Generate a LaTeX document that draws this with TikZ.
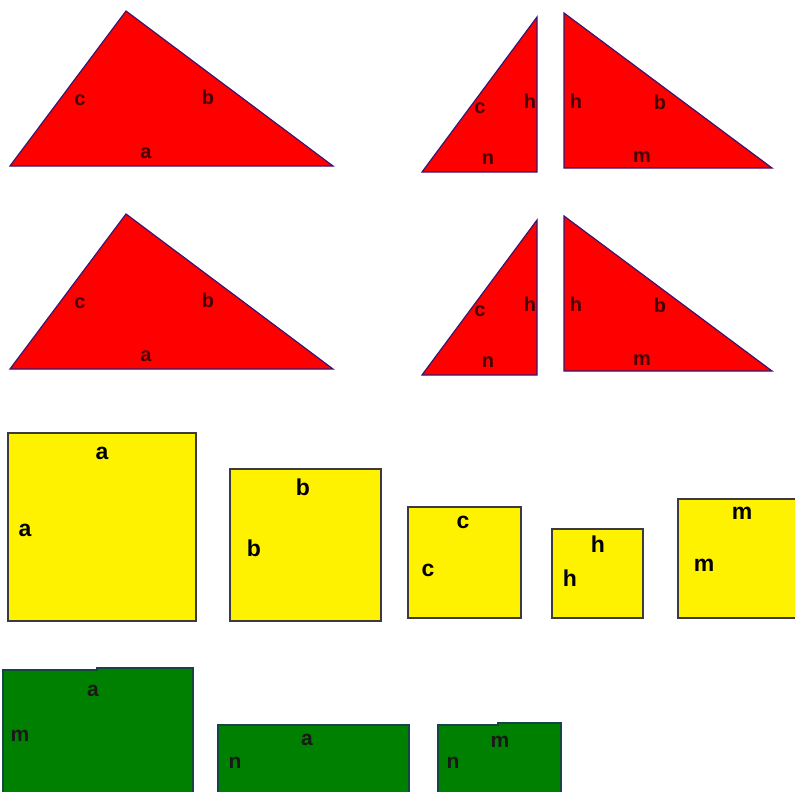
\documentclass[tikz,border=0pt]{standalone}
\usepackage{fontspec}
\setmainfont{Liberation Sans}
\definecolor{triedge}{RGB}{60,20,110}
\definecolor{sqedge}{RGB}{60,60,60}
\definecolor{recedge}{RGB}{20,70,70}
\definecolor{greenfill}{RGB}{0,128,0}
\definecolor{lblred}{RGB}{70,0,0}
\begin{document}
\begin{tikzpicture}[x=1pt,y=-1pt,
	tri/.style={fill=red, draw=triedge, line width=1.2pt, line join=miter},
	sq/.style={fill=yellow, draw=sqedge, line width=1.5pt},
	rec/.style={fill=greenfill, draw=recedge, line width=1.5pt},
	trilbl/.style={font=\fontsize{20}{20}\selectfont\bfseries, text=lblred, inner sep=0pt},
	sqlbl/.style={font=\fontsize{23}{23}\selectfont\bfseries, text=black, inner sep=0pt},
	reclbl/.style={font=\fontsize{21}{21}\selectfont\bfseries, text=black!90, inner sep=0pt}]

	\useasboundingbox (0,0) rectangle (795,792);
	\clip (0,0) rectangle (795,792);

	% the two rows of triangles
	\foreach \dy/\row in {0/1, 203/2}{
		\begin{scope}[shift={(0,\dy)}]
			% whole triangle
			\draw[tri] (10,166) -- (126,11) -- (333,166) -- cycle;
			\node[trilbl] (c\row) at (80,100) {c};
			\node[trilbl] (b\row) at (208,97) {b};
			\node[trilbl] (a\row) at (146,153) {a};

			% left piece
			\draw[tri] (422,172) -- (537,17) -- (537,172) -- cycle;
			\node[trilbl] (cl\row) at (480,108) {c};
			\node[trilbl] (hl\row) at (530,101) {h};
			\node[trilbl] (nl\row) at (488,159) {n};

			% right piece
			\draw[tri] (564,13) -- (564,168) -- (772,168) -- cycle;
			\node[trilbl] (hr\row) at (576,101) {h};
			\node[trilbl] (br\row) at (660,102) {b};
			\node[trilbl] (mr\row) at (642,157) {m};
		\end{scope}
	}

	% squares on the sides
	\draw[sq] (8,433) rectangle (196,621);
	\node[sqlbl] (sqat) at (102,453) {a};
	\node[sqlbl] (sqal) at (25,530) {a};

	\draw[sq] (230,469) rectangle (381,621);
	\node[sqlbl] (sqbt) at (303,487) {b};
	\node[sqlbl] (sqbl) at (254,548) {b};

	\draw[sq] (408,507) rectangle (521,618);
	\node[sqlbl] (sqct) at (463,522) {c};
	\node[sqlbl] (sqcl) at (428,570) {c};

	\draw[sq] (552,529) rectangle (643,618);
	\node[sqlbl] (sqht) at (598,544) {h};
	\node[sqlbl] (sqhl) at (570,578) {h};

	\draw[sq] (678,499) rectangle (830,618);
	\node[sqlbl] (sqmt) at (742,513) {m};
	\node[sqlbl] (sqml) at (704,565) {m};

	% rectangles
	\draw[rec] (3,670) -- (97,670) -- (97,668) -- (193,668) -- (193,800) -- (3,800) -- cycle;
	\node[reclbl] (ra) at (93,691) {a};
	\node[reclbl] (rm) at (20,736) {m};

	\draw[rec] (218,725) rectangle (409,800);
	\node[reclbl] (rna) at (307,740) {a};
	\node[reclbl] (rnn) at (235,763) {n};

	\draw[rec] (438,725) -- (498,725) -- (498,723) -- (561,723) -- (561,800) -- (438,800) -- cycle;
	\node[reclbl] (rmm) at (500,742) {m};
	\node[reclbl] (rmn) at (453,763) {n};
\end{tikzpicture}
\end{document}
